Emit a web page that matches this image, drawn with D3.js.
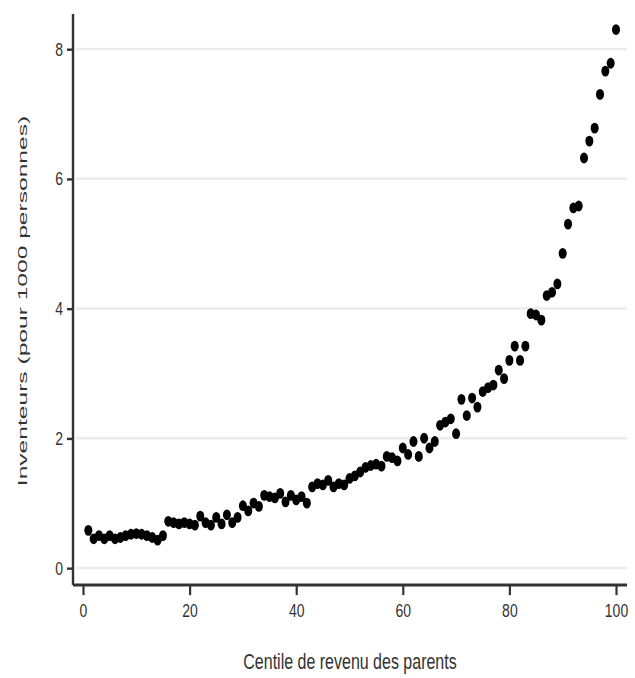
<!DOCTYPE html>
<html>
<head>
<meta charset="utf-8">
<script src="https://cdn.jsdelivr.net/npm/d3@7"></script>
<style>
  html, body { margin: 0; padding: 0; background: #fff; }
  svg { display: block; }
  text { font-family: "Liberation Sans", Arial, sans-serif; fill: #333; }
</style>
</head>
<body>
<svg id="chart"></svg>
<script>
// Taux d'inventeurs par centile de revenu des parents
const centiles = d3.range(1, 101);
const inventeurs = [
  0.58, 0.45, 0.50, 0.45, 0.50, 0.45, 0.47, 0.50, 0.52, 0.53,
  0.52, 0.50, 0.47, 0.43, 0.50, 0.72, 0.70, 0.68, 0.70, 0.68,
  0.66, 0.80, 0.70, 0.66, 0.78, 0.68, 0.82, 0.70, 0.78, 0.96,
  0.88, 1.00, 0.95, 1.12, 1.10, 1.08, 1.15, 1.02, 1.12, 1.05,
  1.10, 1.00, 1.25, 1.30, 1.28, 1.35, 1.25, 1.30, 1.28, 1.38,
  1.42, 1.48, 1.55, 1.58, 1.60, 1.57, 1.72, 1.70, 1.65, 1.85,
  1.75, 1.95, 1.72, 2.00, 1.85, 1.95, 2.20, 2.25, 2.30, 2.07,
  2.60, 2.35, 2.62, 2.48, 2.72, 2.78, 2.82, 3.05, 2.92, 3.20,
  3.42, 3.20, 3.42, 3.92, 3.90, 3.82, 4.20, 4.25, 4.38, 4.85,
  5.30, 5.55, 5.58, 6.32, 6.58, 6.78, 7.30, 7.66, 7.78, 8.30
];
const xTicks = [0, 20, 40, 60, 80, 100];
const yTicks = [0, 2, 4, 6, 8];
const xTitle = "Centile de revenu des parents";
const yTitle = "Inventeurs (pour 1000 personnes)";

const W = 635, H = 678;
const k = 1.35;              // vertical stretch of the drawing
const VH = H / k;            // drawing height in user units

const svg = d3.select("#chart")
  .attr("width", W).attr("height", H)
  .attr("viewBox", `0 0 ${W} ${VH}`)
  .attr("preserveAspectRatio", "none");

const x = d3.scaleLinear().domain([0, 100]).range([83, 616]);
const y = d3.scaleLinear().domain([0, 8]).range([568 / k, 49 / k]);

const axisY = 585 / k;
const axisX = 73;

// grid
svg.append("g").selectAll("line").data(yTicks).join("line")
  .attr("x1", 76).attr("x2", 627)
  .attr("y1", d => y(d)).attr("y2", d => y(d))
  .attr("stroke", "#ebebeb").attr("stroke-width", 2);

// x axis
const gx = svg.append("g").attr("transform", `translate(0,${axisY})`)
  .call(d3.axisBottom(x).tickValues(xTicks).tickSize(7.5).tickPadding(6).tickSizeOuter(0));
gx.select(".domain").attr("d", `M${axisX},0H627`).attr("stroke", "#333").attr("stroke-width", 2.2);
gx.selectAll(".tick line").attr("stroke", "#333").attr("stroke-width", 2.2);
gx.selectAll(".tick text").attr("font-size", 14).attr("fill", "#333")
  .attr("font-family", "Liberation Sans, Arial, sans-serif");

// y axis
const gy = svg.append("g").attr("transform", `translate(${axisX},0)`)
  .call(d3.axisLeft(y).tickValues(yTicks).tickSize(6).tickPadding(4).tickSizeOuter(0));
gy.select(".domain").attr("d", `M0,${14 / k}V${axisY}`).attr("stroke", "#333").attr("stroke-width", 2.4);
gy.selectAll(".tick line").attr("stroke", "#333").attr("stroke-width", 1.8);
gy.selectAll(".tick text").attr("font-size", 14).attr("fill", "#333")
  .attr("font-family", "Liberation Sans, Arial, sans-serif");

// points
svg.append("g").selectAll("circle").data(centiles).join("circle")
  .attr("cx", (d) => x(d))
  .attr("cy", (d, i) => y(inventeurs[i]))
  .attr("r", 4)
  .attr("fill", "#000");

// titles
svg.append("text")
  .attr("x", 350).attr("y", 669 / k)
  .attr("text-anchor", "middle").attr("font-size", 16)
  .text(xTitle);

svg.append("text")
  .attr("transform", `translate(27,${301 / k}) rotate(-90) scale(1.35,1)`)
  .attr("text-anchor", "middle").attr("font-size", 13.5)
  .text(yTitle);
</script>
</body>
</html>
